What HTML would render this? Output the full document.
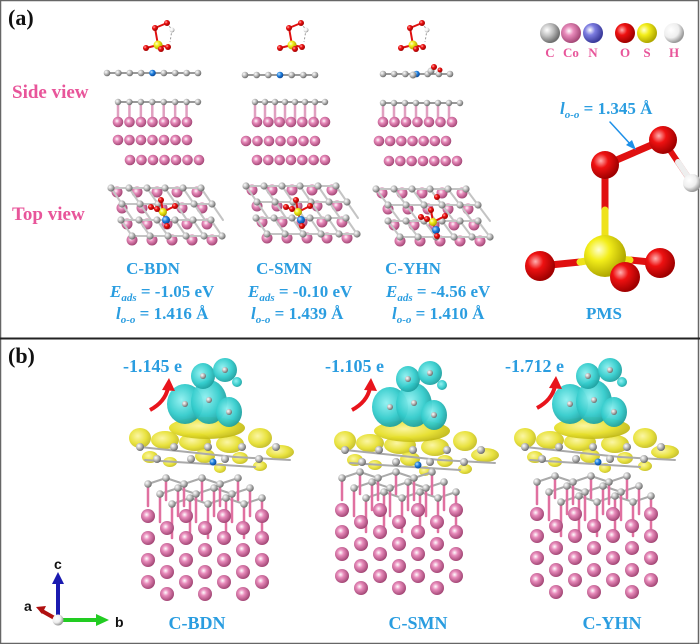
<!DOCTYPE html>
<html><head><meta charset="utf-8">
<style>
html,body{margin:0;padding:0;background:#fff;}
#w{position:relative;width:700px;height:644px;overflow:hidden;}
svg{position:absolute;left:0;top:0;}
</style></head><body><div id="w">
<svg id="s" width="700" height="644" viewBox="0 0 700 644" xmlns="http://www.w3.org/2000/svg">
<defs>
<radialGradient id="gC" cx="35%" cy="35%" r="65%"><stop offset="0" stop-color="#fff"/><stop offset=".5" stop-color="#bdbdbd"/><stop offset="1" stop-color="#6e6e6e"/></radialGradient>
<radialGradient id="gCo" cx="40%" cy="40%" r="65%"><stop offset="0" stop-color="#fff"/><stop offset=".35" stop-color="#e88bbb"/><stop offset="1" stop-color="#9c3f6e"/></radialGradient>
<radialGradient id="gN" cx="35%" cy="35%" r="65%"><stop offset="0" stop-color="#fff"/><stop offset=".4" stop-color="#7c7ce0"/><stop offset="1" stop-color="#3a3a9a"/></radialGradient>
<radialGradient id="gO" cx="35%" cy="35%" r="65%"><stop offset="0" stop-color="#ffb0b0"/><stop offset=".4" stop-color="#ee1111"/><stop offset="1" stop-color="#a00000"/></radialGradient>
<radialGradient id="gS" cx="35%" cy="35%" r="65%"><stop offset="0" stop-color="#ffffd0"/><stop offset=".4" stop-color="#f3ee1a"/><stop offset="1" stop-color="#b0a800"/></radialGradient>
<radialGradient id="gH" cx="35%" cy="35%" r="65%"><stop offset="0" stop-color="#fff"/><stop offset=".6" stop-color="#eee"/><stop offset="1" stop-color="#999"/></radialGradient>
<radialGradient id="gB" cx="35%" cy="35%" r="65%"><stop offset="0" stop-color="#bfe3ff"/><stop offset=".5" stop-color="#1e7fe0"/><stop offset="1" stop-color="#0b4a9a"/></radialGradient>
<radialGradient id="gCy" cx="40%" cy="40%" r="65%"><stop offset="0" stop-color="#8ff0f0"/><stop offset=".6" stop-color="#33cccc"/><stop offset="1" stop-color="#1c9a9a"/></radialGradient>
<radialGradient id="gY" cx="40%" cy="40%" r="65%"><stop offset="0" stop-color="#fbf59a"/><stop offset=".6" stop-color="#e6df2a"/><stop offset="1" stop-color="#bdb516"/></radialGradient>
</defs>
<rect x="0.5" y="0.5" width="698" height="643" fill="#fff" stroke="#666" stroke-width="1.5"/>
<line x1="0" y1="338.5" x2="700" y2="338.5" stroke="#222" stroke-width="2"/>
<g id="atoms"></g>
<g font-family="Liberation Serif, serif" font-weight="bold">
<text x="8" y="25" font-size="22" fill="#111">(a)</text>
<text x="8" y="363" font-size="22" fill="#111">(b)</text>
<text x="12" y="98" font-size="19" fill="#e8559a">Side view</text>
<text x="12" y="220" font-size="19" fill="#e8559a">Top view</text>
<g fill="#e8559a" font-size="13" text-anchor="middle">
<text x="550" y="57">C</text><text x="571" y="57">Co</text><text x="593" y="57">N</text><text x="625" y="57">O</text><text x="647" y="57">S</text><text x="674" y="57">H</text>
</g>
<g fill="#2a9de0" font-size="17" text-anchor="middle">
<text x="153" y="274">C-BDN</text><text x="284" y="274">C-SMN</text><text x="413" y="274">C-YHN</text>
<text x="604" y="319">PMS</text>
</g>
<g fill="#2a9de0" font-size="17">
<text x="110" y="297"><tspan font-style="italic">E</tspan><tspan font-style="italic" font-size="11" dy="4">ads</tspan><tspan dy="-4"> = -1.05 eV</tspan></text>
<text x="116" y="319"><tspan font-style="italic">l</tspan><tspan font-style="italic" font-size="11" dy="4">o-o</tspan><tspan dy="-4"> = 1.416 Å</tspan></text>
<text x="248" y="297"><tspan font-style="italic">E</tspan><tspan font-style="italic" font-size="11" dy="4">ads</tspan><tspan dy="-4"> = -0.10 eV</tspan></text>
<text x="251" y="319"><tspan font-style="italic">l</tspan><tspan font-style="italic" font-size="11" dy="4">o-o</tspan><tspan dy="-4"> = 1.439 Å</tspan></text>
<text x="386" y="297"><tspan font-style="italic">E</tspan><tspan font-style="italic" font-size="11" dy="4">ads</tspan><tspan dy="-4"> = -4.56 eV</tspan></text>
<text x="392" y="319"><tspan font-style="italic">l</tspan><tspan font-style="italic" font-size="11" dy="4">o-o</tspan><tspan dy="-4"> = 1.410 Å</tspan></text>
<text x="560" y="114"><tspan font-style="italic">l</tspan><tspan font-style="italic" font-size="11" dy="4">o-o</tspan><tspan dy="-4"> = 1.345 Å</tspan></text>
<text x="123" y="372" font-size="18">-1.145 e</text>
<text x="325" y="372" font-size="18">-1.105 e</text>
<text x="505" y="372" font-size="18">-1.712 e</text>
</g>
<g fill="#2a9de0" font-size="18" text-anchor="middle">
<text x="197" y="629">C-BDN</text><text x="418" y="629">C-SMN</text><text x="612" y="629">C-YHN</text>
</g>
</g>
<g font-family="Liberation Sans, sans-serif" font-weight="bold" font-size="14" fill="#111">
<text x="54" y="569">c</text><text x="115" y="627">b</text><text x="24" y="611">a</text>
</g>
</svg>
<script>
const g=document.getElementById('atoms');const NS='http://www.w3.org/2000/svg';
function el(t,a){const e=document.createElementNS(NS,t);for(const k in a)e.setAttribute(k,a[k]);g.appendChild(e);return e;}
function at(x,y,r,c){el('circle',{cx:x,cy:y,r:r,fill:'url(#g'+c+')'});}
function ln(x1,y1,x2,y2,c,w){el('line',{x1,y1,x2,y2,stroke:c,'stroke-width':w||1.5,'stroke-linecap':'round'});}
function bl(x,y,rx,ry,c,o){el('ellipse',{cx:x,cy:y,rx,ry,fill:'url(#g'+c+')',opacity:o||0.92});}
[['C',550],['Co',571],['N',593],['O',625],['S',647],['H',674]].forEach(a=>at(a[1],33,10,a[0]));
ln(605,170,605,210,'#e01010',7);ln(605,210,605,250,'#eee21a',7);
ln(605,165,663,140,'#e01010',7);ln(663,140,692,183,'#e01010',6);ln(678,162,692,183,'#eee',6);
ln(540,266,580,262,'#e01010',7);ln(580,262,605,258,'#eee21a',7);
ln(660,263,630,260,'#e01010',7);ln(630,260,605,258,'#eee21a',7);
at(692,183,9,'H');at(605,165,14,'O');at(663,140,14,'O');at(540,266,15,'O');at(660,263,15,'O');
at(605,256,21,'S');at(625,277,15,'O');
ln(610,122,632,146,'#1e90e8',1.5);el('path',{d:'M636,150 L626,145 L632,140 z',fill:'#1e90e8'});
function mol(cx){
 ln(cx,45,cx-3,28,'#e01010',2);ln(cx-3,28,cx+9,23,'#e01010',2);
 el('path',{d:`M${cx+9},23 L${cx+14},30 L${cx+12},42`,fill:'none',stroke:'#999','stroke-width':1,'stroke-dasharray':'2,2'});
 ln(cx,45,cx-12,48,'#e01010',2);ln(cx,45,cx+10,47,'#e01010',2);ln(cx,45,cx+3,49,'#e01010',2);
 at(cx+14,30,2.5,'H');at(cx-3,28,3,'O');at(cx+9,23,3,'O');at(cx,45,4.5,'S');at(cx-12,48,3,'O');at(cx+10,47,3,'O');at(cx+3,49,3,'O');
}
mol(158);mol(292);mol(413);
function chain(x0,x1,y,n,blue,r){ln(x0,y,x1,y,'#999',2);for(let i=0;i<n;i++){const x=x0+(x1-x0)*i/(n-1);at(x,y,r||3.3,(blue===i)?'B':'C');}}
chain(107,198,73,9,4);chain(245,315,75,7,3);chain(383,450,74,7,3);
at(413,75,3.5,'C');at(431,71,3.5,'C');at(434,67,3,'O');at(440,70,2.5,'O');
function slab(x0,x1,yc,rows){
 for(let i=0;i<8;i++){const x=x0+(x1-x0)*i/7;if(i<7){ln(x,yc,x,rows[0][2],'#e0a0c0',2.5);}}
 chain(x0,x1,yc,8,-1,3.2);
 rows.forEach(r=>{for(let i=0;i<7;i++)at(r[0]+(r[1]-r[0])*i/6,r[2],5.3,'Co');});
}
slab(118,198,102,[[118,187,122],[118,187,140],[130,199,160]]);
slab(255,325,102,[[257,325,122],[246,315,141],[257,325,160]]);
slab(383,460,103,[[383,452,122],[379,446,141],[389,457,161]]);
function topv(x0,y0,skew){
 for(let j=0;j<4;j++)for(let i=0;i<5;i++){const x=x0+i*20+j*skew,y=y0+j*16;at(x,y,5.5,'Co');}
 for(let j=0;j<4;j++)for(let i=0;i<6;i++){const x=x0-6+i*18+j*skew+(j%2)*6,y=y0-4+j*16;
  if(i<5)ln(x,y,x+18,y,'#c4c4c4',2);if(j<3)ln(x,y,x+skew+6,y+16,'#c4c4c4',2);at(x,y,3.6,'C');}
}
topv(117,192,5);topv(252,190,5);topv(382,193,6);
function topmol(cx,cy){ln(cx,cy,cx-12,cy-5,'#e01010',2);ln(cx,cy,cx+12,cy-6,'#e01010',2);ln(cx,cy,cx+4,cy+14,'#e01010',2);ln(cx,cy,cx-2,cy-12,'#e01010',2);
 at(cx+3,cy+8,4,'B');at(cx,cy,4,'S');at(cx-12,cy-5,3,'O');at(cx+12,cy-6,3,'O');at(cx+4,cy+14,3,'O');at(cx-2,cy-12,3,'O');at(cx-6,cy-3,3,'O');}
topmol(163,212);topmol(298,212);topmol(433,222);
at(437,197,3,'O');
function cloud(ox,oy){
 const Y=[[-55,56,11,10],[-30,58,14,9],[0,60,16,9],[35,62,14,9],[65,56,12,10],[85,70,14,7],[-45,75,8,6],[10,74,10,7],[45,76,8,6],[-25,80,7,5],[65,84,7,5],[25,86,6,5]];
 Y.forEach(b=>bl(ox+b[0],oy+b[1],b[2],b[3],'Y',0.9));
 bl(ox+12,oy+46,38,11,'Y',0.95);
 ln(ox-55,oy+65,ox+40,oy+75,'#aaa',2);ln(ox+40,oy+75,ox+95,oy+78,'#aaa',2);ln(ox-50,oy+78,ox+60,oy+85,'#aaa',2);
 for(let i=0;i<9;i++){at(ox-55+i*17,oy+65+(i%2)*12,4,'C');}
 const Cy=[[-10,22,18,20],[14,20,18,22],[34,30,13,15],[8,-6,12,13],[30,-12,12,12],[42,0,5,5]];
 Cy.forEach(b=>bl(ox+b[0],oy+b[1],b[2],b[3],'Cy',0.95));
 [[-10,22],[14,18],[34,30],[8,-6],[30,-12]].forEach(p=>at(ox+p[0],oy+p[1],3,'C'));
 at(ox+18,oy+80,3.5,'B');
}
cloud(195,382);cloud(400,385);cloud(580,382);
function rarr(x,y){el('path',{d:`M${x},${y} Q${x+15},${y-8} ${x+18},${y-22}`,fill:'none',stroke:'#e8141c','stroke-width':4});
 el('path',{d:`M${x+12},${y-20} L${x+19},${y-32} L${x+25},${y-19} z`,fill:'#e8141c'});}
rarr(150,410);rarr(352,410);rarr(537,408);
function sub(x0,y0){
 for(let j=0;j<3;j++)for(let i=0;i<6;i++){const x=x0+i*18+j*12,y=y0+j*10+(i%2)*(-6);if(i<5)ln(x,y,x+18,y+((i%2)?6:-6),'#aaa',2);}
 for(let j=0;j<3;j++)for(let i=0;i<6;i++){const x=x0+i*18+j*12,y=y0+j*10+(i%2)*(-6);ln(x,y,x,y+22+j*6,'#e070a0',2.5);at(x,y,3.8,'C');}
 for(let k=0;k<4;k++)for(let i=0;i<7;i++){const x=x0+i*19,y=y0+32+k*22+(i%2)*12;if(y<y0+118)at(x,y,7,'Co');}
}
sub(148,484);sub(342,478);sub(537,482);
ln(58,620,58,582,'#1a1ab0',4);el('path',{d:'M52,584 L58,572 L64,584 z',fill:'#1a1ab0'});
ln(58,620,98,620,'#22cc22',4);el('path',{d:'M96,614 L109,620 L96,626 z',fill:'#22cc22'});
ln(58,620,42,611,'#b01010',4);el('path',{d:'M36,607 L46,606 L42,614 z',fill:'#b01010'});
at(58,620,5.5,'H');
</script>
</div></body></html>
